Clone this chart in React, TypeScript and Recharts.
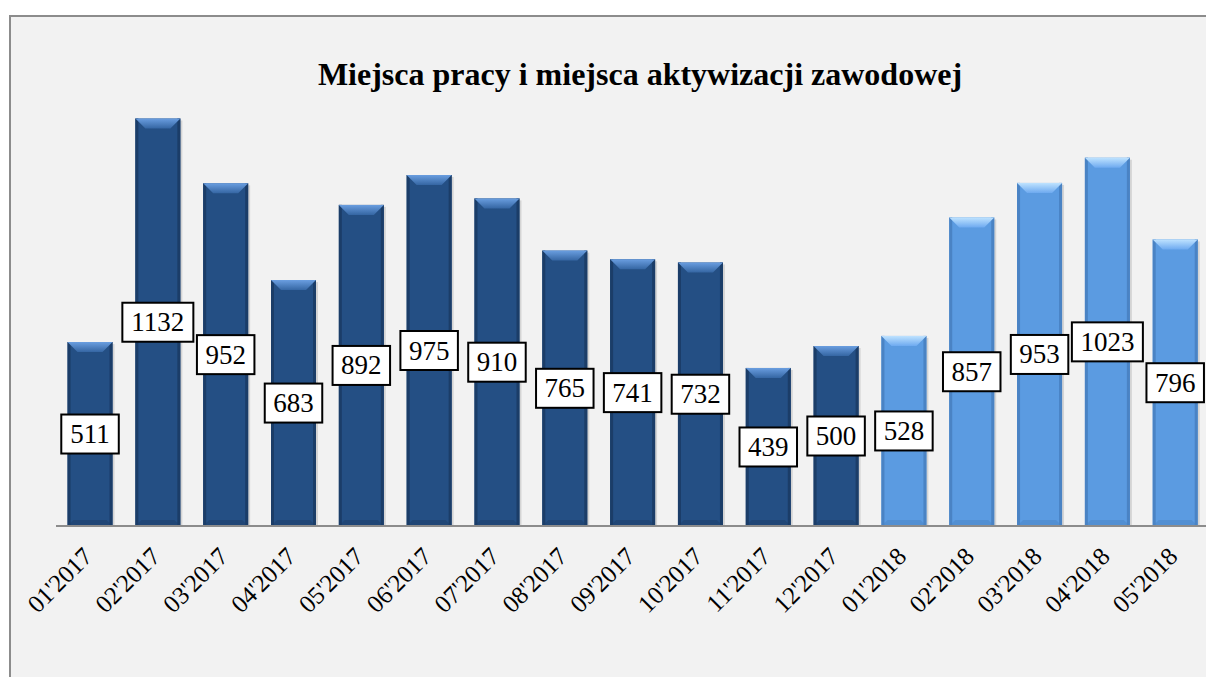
import React from 'react';
import { Bar, BarChart, XAxis, YAxis, LabelList, Cell } from "recharts";

const months = [
  "01'2017", "02'2017", "03'2017", "04'2017", "05'2017", "06'2017", "07'2017", "08'2017", "09'2017",
  "10'2017", "11'2017", "12'2017", "01'2018", "02'2018", "03'2018", "04'2018", "05'2018",
];
const values = [511, 1132, 952, 683, 892, 975, 910, 765, 741, 732, 439, 500, 528, 857, 953, 1023, 796];
const years = months.map((m) => m.slice(3));

const data = months.map((m, i) => ({ month: m, value: values[i], year: years[i] }));

const palette: { [key: string]: { base: string; side: string } } = {
  "2017": { base: "#244f84", side: "#1b3d68" },
  "2018": { base: "#5b9be1", side: "#4a83c4" },
};

const BevelBar = (props: any) => {
  const { x, y, width, height, payload } = props;
  const c = palette[payload.year];
  const b = 10;
  return (
    <g>
      <rect x={x + 2} y={y + 2} width={width} height={height - 2} fill="#000" opacity={0.12} />
      <rect x={x} y={y} width={width} height={height} fill={c.base} />
      <rect x={x} y={y} width={3} height={height} fill={c.side} />
      <rect x={x + width - 3} y={y} width={3} height={height} fill={c.side} />
      <polygon
        points={`${x},${y} ${x + width},${y} ${x + width - b},${y + b} ${x + b},${y + b}`}
        fill={`url(#top${payload.year})`}
      />
      <polygon
        points={`${x},${y + height} ${x + width},${y + height} ${x + width - 6},${y + height - 6} ${x + 6},${y + height - 6}`}
        fill={c.side}
        opacity={0.5}
      />
    </g>
  );
};

const ValueBox = (props: any) => {
  const { x, y, width, height, value } = props;
  const cx = x + width / 2;
  const cy = y + height / 2;
  const w = String(value).length * 13.5 + 17;
  const h = 39;
  return (
    <g>
      <rect x={cx - w / 2} y={cy - h / 2} width={w} height={h} fill="#fff" stroke="#000" strokeWidth={2} />
      <text x={cx} y={cy + 9} textAnchor="middle" fontFamily="'Liberation Serif', serif" fontSize={27} fill="#000">
        {value}
      </text>
    </g>
  );
};

const MonthTick = (props: any) => {
  const { x, y, payload } = props;
  const ax = x + 4;
  const ay = y + 24;
  return (
    <text
      x={ax}
      y={ay}
      transform={`rotate(-45, ${ax}, ${ay})`}
      textAnchor="end"
      fontFamily="'Liberation Serif', serif"
      fontSize={25}
      fill="#000"
    >
      {payload.value}
    </text>
  );
};

export default function App() {
  return (
    <div style={{ position: "absolute", left: 0, top: 0, width: 1206, height: 677, overflow: "hidden", background: "#fff" }}>
      <div
        style={{
          position: "absolute",
          left: 9,
          top: 15,
          width: 1400,
          height: 900,
          background: "#f2f2f2",
          borderTop: "2px solid #8c8c8c",
          borderLeft: "2px solid #8c8c8c",
        }}
      />
      <div
        style={{
          position: "absolute",
          left: 0,
          top: 56,
          width: 1280,
          textAlign: "center",
          fontFamily: "'Liberation Serif', serif",
          fontWeight: "bold",
          fontSize: 32,
          color: "#000",
        }}
      >
        Miejsca pracy i miejsca aktywizacji zawodowej
      </div>
      <div style={{ position: "absolute", left: 0, top: 0 }}>
        <BarChart
          width={1215}
          height={677}
          data={data}
          margin={{ top: 94, right: 6, left: 56, bottom: 0 }}
          barCategoryGap="17%"
        >
          <defs>
            <linearGradient id="top2017" x1="0" y1="0" x2="0" y2="1">
              <stop offset="0%" stopColor="#6a9ee0" />
              <stop offset="100%" stopColor="#3566a3" />
            </linearGradient>
            <linearGradient id="top2018" x1="0" y1="0" x2="0" y2="1">
              <stop offset="0%" stopColor="#bfe3ff" />
              <stop offset="100%" stopColor="#6eaaf0" />
            </linearGradient>
          </defs>
          <XAxis
            dataKey="month"
            height={151}
            interval={0}
            tickLine={false}
            axisLine={{ stroke: "#8c8c8c", strokeWidth: 2 }}
            tick={<MonthTick />}
          />
          <YAxis hide domain={[0, 1200]} />
          <Bar dataKey="value" shape={<BevelBar />} isAnimationActive={false}>
            {data.map((d) => (
              <Cell key={d.month} fill={palette[d.year].base} />
            ))}
            <LabelList dataKey="value" content={<ValueBox />} />
          </Bar>
        </BarChart>
      </div>
    </div>
  );
}
